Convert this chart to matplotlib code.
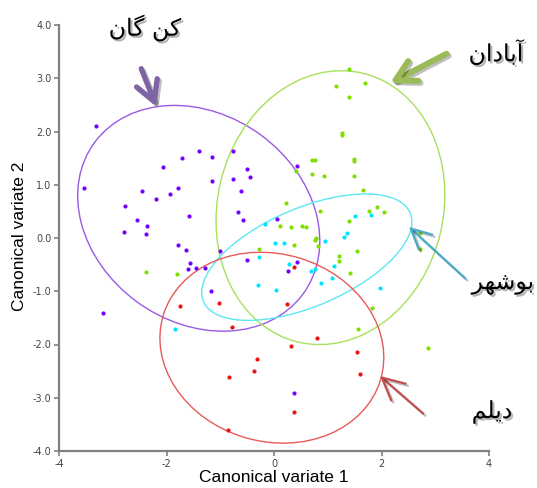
import matplotlib
matplotlib.use("Agg")
import matplotlib.pyplot as plt
import matplotlib.patheffects as pe
from matplotlib.patches import Ellipse

OUT_PLOT = "out.png"

# canonical scores per group
kangan_x = [-3.31, -3.53, -1.40, -1.16, -1.71, -2.06, -0.76, -0.50, -0.45, -1.15,
            -0.76, -0.61, -2.46, -1.78, -1.93, -2.20, -2.77, -1.58, -0.67, -0.57,
            -2.54, -2.37, -2.79, -2.39, -1.79, -1.64, 0.43, 0.06, -1.01, -0.50,
            -1.57, -1.60, -1.45, -1.29, -1.18, -3.19, 0.43, 0.26, 0.38]
kangan_y = [2.11, 0.93, 1.64, 1.53, 1.50, 1.33, 1.63, 1.29, 1.14, 1.07,
            1.11, 0.89, 0.88, 0.93, 0.83, 0.73, 0.61, 0.42, 0.48, 0.34,
            0.33, 0.23, 0.11, 0.07, -0.13, -0.22, 1.36, 0.36, -0.25, -0.42,
            -0.47, -0.58, -0.57, -0.57, -1.00, -1.40, -0.46, -0.62, -2.91]

abadan_x = [1.39, 1.16, 1.70, 1.39, 1.26, 1.27, 1.48, 1.48, 0.70, 0.76,
            0.41, 0.70, 0.93, 1.48, 1.65, 0.22, 0.86, 1.77, 1.92, 2.05,
            1.39, 0.11, 0.32, 0.53, 0.59, 2.72, 0.78, 0.76, 0.81, 0.37,
            -0.28, 1.20, 1.21, 1.54, 1.42, 2.71, 1.83, 1.56, 2.86, -2.39, -1.81]
abadan_y = [3.17, 2.85, 2.92, 2.65, 1.98, 1.94, 1.49, 1.44, 1.46, 1.47,
            1.26, 1.20, 1.16, 1.16, 0.90, 0.65, 0.50, 0.51, 0.59, 0.49,
            0.31, 0.23, 0.20, 0.23, 0.21, 0.10, 0.00, -0.04, -0.15, -0.13,
            -0.21, -0.34, -0.43, -0.24, -0.65, -0.20, -1.32, -1.71, -2.07, -0.64, -0.68]

bushehr_x = [-0.17, 0.02, 0.19, 0.94, 1.30, 1.36, 1.51, 1.81, -0.27, 0.28,
             0.69, 0.76, 1.12, 0.88, 1.07, 1.98, -0.30, 0.03, -1.85]
bushehr_y = [0.26, -0.09, -0.10, -0.05, 0.01, 0.09, 0.41, 0.43, -0.36, -0.48,
             -0.62, -0.58, -0.53, -0.84, -0.75, -0.94, -0.88, -0.98, -1.70]

deylam_x = [0.37, -1.02, -1.74, 0.24, -0.78, 0.80, 0.31, -0.31, -0.37, -0.83,
            1.54, 1.60, 0.37, -0.85]
deylam_y = [-0.54, -1.23, -1.27, -1.24, -1.68, -1.88, -2.02, -2.28, -2.49, -2.61,
            -2.14, -2.56, -3.27, -3.61]

# group ellipses: centre, full width, full height, angle (deg), data units
ell_cx = [-1.40, 1.05, 0.61, -0.04]
ell_cy = [0.37, 0.57, -0.36, -2.06]
ell_w = [4.81, 5.19, 4.19, 4.22]
ell_h = [3.89, 4.20, 1.84, 3.52]
ell_ang = [-36.6, 76.8, 23.5, -16.9]

# persian labels, already in visual (shaped, left-to-right) order
label_kangan = "\uFEE5\uFE8E\uFB94 \uFEE6\uFB90"
label_abadan = "\uFEE5\uFE8D\uFEA9\uFE8E\uFE91\uFE81"
label_bushehr = "\uFEAE\uFEEC\uFEB7\uFEEE\uFE91"
label_deylam = "\uFEE2\uFEE0\uFBFE\uFEA9"

POINT_COLORS = ["#7300ff", "#7fe000", "#00e5ff", "#ee1111"]
ELL_COLORS = ["#9a5ae6", "#a8e05c", "#5ce8f2", "#e65a5a"]


def draw_chart(out_file):
    fig = plt.figure(figsize=(5.37, 4.88), dpi=100)
    ax = fig.add_axes([59 / 537, 37 / 488, 430 / 537, 426 / 488])

    groups = [(kangan_x, kangan_y), (abadan_x, abadan_y),
              (bushehr_x, bushehr_y), (deylam_x, deylam_y)]
    for i, (gx, gy) in enumerate(groups):
        ax.add_patch(Ellipse((ell_cx[i], ell_cy[i]), ell_w[i], ell_h[i],
                             angle=ell_ang[i], fill=False,
                             edgecolor=ELL_COLORS[i], lw=1.0, zorder=2))
        ax.scatter(gx, gy, s=9, color=POINT_COLORS[i], linewidths=0, zorder=3)

    ax.set_xlim(-4, 4)
    ax.set_ylim(-4, 4)
    ax.set_xticks([-4, -2, 0, 2, 4])
    ax.set_xticklabels(["-4", "-2", "0", "2", "4"])
    yt = [-4, -3, -2, -1, 0, 1, 2, 3, 4]
    ax.set_yticks(yt)
    ax.set_yticklabels([f"{v:.1f}" for v in yt])
    ax.tick_params(colors="#808080", labelcolor="#444444", labelsize=7,
                   length=3.5, width=1.2, pad=2)
    for s in ["top", "right"]:
        ax.spines[s].set_visible(False)
    for s in ["left", "bottom"]:
        ax.spines[s].set_color("#808080")
        ax.spines[s].set_linewidth(1.6)

    fig.text(274 / 537, 1 - 477 / 488, "Canonical variate 1", ha="center",
             va="center", fontsize=12.5, family="Liberation Sans")
    fig.text(20 / 537, 1 - 236 / 488, "Canonical variate 2", ha="center",
             va="center", rotation=90, fontsize=12.5, family="Liberation Sans")

    # arrows pointing at the ellipses
    arrows = [
        ((-2.19, 2.47), (-2.47, 3.18), "#7f63a5", 3.8, 0.9, 0.5),
        ((2.16, 2.91), (3.21, 3.46), "#9bbb59", 4.3, 0.9, 0.5),
        ((2.51, 0.21), (3.56, -0.76), "#4bacc6", 1.6, 0.9, 0.45),
        ((1.97, -2.59), (2.78, -3.30), "#c0504d", 1.6, 1.0, 0.5),
    ]
    shadow = [pe.SimpleLineShadow(offset=(1.5, -1.5), alpha=0.25), pe.Normal()]
    for tip, tail, col, lw, hl, hw in arrows:
        ax.annotate("", xy=tip, xytext=tail, annotation_clip=False,
                    arrowprops=dict(arrowstyle=f"->,head_length={hl},head_width={hw}",
                                    color=col, lw=lw, mutation_scale=16,
                                    shrinkA=0, shrinkB=0,
                                    path_effects=shadow))

    txt_fx = [pe.SimplePatchShadow(offset=(1.5, -1.5), alpha=0.3), pe.Normal()]
    fa = dict(fontsize=17, family="DejaVu Sans", color="black",
              va="center", path_effects=txt_fx)
    fig.text(145 / 537, 1 - 28 / 488, label_kangan, ha="center", **fa)
    fig.text(496 / 537, 1 - 53 / 488, label_abadan, ha="center", **fa)
    fig.text(534 / 537, 1 - 283 / 488, label_bushehr, ha="right", **fa)
    fig.text(492 / 537, 1 - 412 / 488, label_deylam, ha="center", **fa)

    fig.savefig(out_file, dpi=100)
    plt.close(fig)
    print(f"saved {out_file}")


def main():
    draw_chart(OUT_PLOT)


if __name__ == "__main__":
    main()
